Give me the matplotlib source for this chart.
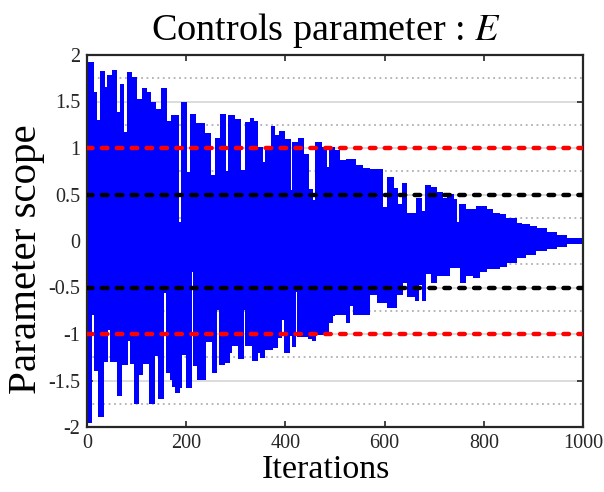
import matplotlib
matplotlib.use("Agg")
import matplotlib.pyplot as plt
import numpy as np
from matplotlib.ticker import MultipleLocator

# ---- data (envelope of E, step segments) ----
upper_edges = [0, 15, 21, 26, 36, 40, 50, 60, 66, 75, 81, 91, 101, 110, 121, 130, 140, 150,
               161, 170, 185, 189, 202, 207, 219, 237, 249, 258, 269, 280, 285, 298, 310,
               318, 328, 337, 345, 354, 358, 370, 380, 387, 399, 411, 414, 426, 438, 447,
               455, 459, 473, 483, 488, 500, 510, 523, 542, 557, 571, 596, 604, 618, 628,
               636, 646, 663, 675, 681, 693, 705, 717, 725, 739, 745, 751, 764, 784, 807,
               818, 833, 845, 866, 878, 893, 908, 927, 947, 967, 985, 1000]
upper_values = [1.92, 1.60, 1.30, 1.83, 1.66, 1.79, 1.84, 1.39, 1.69, 1.17, 1.82, 1.76, 1.53,
                1.65, 1.60, 1.50, 1.42, 1.64, 1.29, 1.36, 0.20, 1.49, 0.74, 1.37, 1.27, 1.16,
                0.71, 1.11, 1.37, 0.75, 1.35, 1.31, 0.76, 1.28, 1.32, 1.29, 1.01, 0.85, 1.02,
                1.24, 1.14, 1.18, 1.10, 0.55, 1.06, 1.11, 0.94, 0.56, 0.44, 1.06, 1.01, 0.80,
                1.01, 0.98, 0.87, 0.88, 0.82, 0.78, 0.77, 0.37, 0.69, 0.57, 0.40, 0.62, 0.30,
                0.46, 0.32, 0.60, 0.58, 0.53, 0.46, 0.51, 0.45, 0.20, 0.40, 0.34, 0.38, 0.34,
                0.30, 0.29, 0.25, 0.19, 0.18, 0.16, 0.14, 0.10, 0.065, 0.035, 0.015]

lower_edges = [0, 11, 14, 23, 35, 43, 46, 60, 71, 83, 86, 94, 105, 112, 126, 138, 144, 156,
               159, 167, 172, 177, 188, 192, 200, 211, 213, 222, 239, 253, 263, 267, 278,
               289, 293, 304, 316, 319, 333, 344, 348, 359, 375, 386, 394, 398, 409, 413,
               421, 424, 446, 453, 461, 477, 487, 495, 500, 522, 530, 537, 571, 584, 604,
               624, 638, 645, 661, 669, 675, 684, 693, 705, 732, 752, 764, 779, 792, 807,
               833, 846, 866, 886, 906, 927, 947, 967, 985, 1000]
lower_values = [-1.96, -0.80, -1.40, -1.89, -1.30, -0.96, -1.30, -1.67, -1.33, -1.08, -1.32,
                -1.75, -1.44, -1.32, -1.75, -1.24, -1.70, -0.56, -1.42, -1.49, -1.57, -1.63,
                -1.58, -1.23, -1.58, -0.33, -1.34, -1.49, -1.09, -1.42, -0.74, -1.33, -1.31,
                -1.20, -1.13, -1.27, -0.74, -1.13, -1.29, -1.20, -1.26, -1.17, -1.15, -1.04,
                -0.85, -1.20, -1.02, -1.14, -0.55, -1.03, -1.05, -1.08, -1.01, -1.00, -0.88,
                -0.81, -0.80, -0.88, -0.70, -0.80, -0.58, -0.67, -0.72, -0.58, -0.45, -0.60,
                -0.65, -0.47, -0.65, -0.35, -0.45, -0.38, -0.29, -0.45, -0.38, -0.40, -0.33,
                -0.30, -0.28, -0.24, -0.18, -0.15, -0.11, -0.09, -0.06, -0.035, -0.015]

ref_levels = [1.0, 0.5, -0.5, -1.0]
ref_colors = ["#ff0000", "#000000", "#000000", "#ff0000"]

x_ticks = [0, 200, 400, 600, 800, 1000]
y_ticks = [-2, -1.5, -1, -0.5, 0, 0.5, 1, 1.5, 2]
y_tick_labels = ["-2", "-1.5", "-1", "-0.5", "0", "0.5", "1", "1.5", "2"]

plt.rcParams["font.family"] = ["Liberation Serif", "DejaVu Serif"]
plt.rcParams["mathtext.fontset"] = "stix"

fig = plt.figure(figsize=(6.04, 4.92), dpi=100)
ax = fig.add_axes([87 / 604, 65 / 492, 496 / 604, 372 / 492])

ax.stairs(upper_values, upper_edges, baseline=-0.03, fill=True, color="#0000ff",
          linewidth=0, zorder=2)
ax.stairs(lower_values, lower_edges, baseline=0.03, fill=True, color="#0000ff",
          linewidth=0, zorder=2)

for lvl, col in zip(ref_levels, ref_colors):
    ax.axhline(lvl, color=col, linewidth=3.2, dashes=(1.25, 2.1),
               dash_capstyle="round", zorder=3)

ax.set_xlim(0, 1000)
ax.set_ylim(-2, 2)
ax.set_xticks(x_ticks)
ax.set_xticklabels([str(t) for t in x_ticks])
ax.set_yticks(y_ticks)
ax.set_yticklabels(y_tick_labels)
ax.yaxis.set_minor_locator(MultipleLocator(0.25))

ax.grid(False)
ax.yaxis.grid(True, which="major", color="#d9d9d9", linewidth=1.3, linestyle="-", zorder=0)
ax.yaxis.grid(True, which="minor", color="#b0b0b0", linewidth=1.3, linestyle=(0, (1, 2)),
              zorder=0)
ax.set_axisbelow(True)

ax.tick_params(which="major", direction="in", length=4, width=1.2, top=True, right=True,
               labelsize=14.5, colors="#262626", pad=5)
ax.tick_params(which="minor", length=0)
ax.tick_params(axis="x", pad=5)
for sp in ax.spines.values():
    sp.set_linewidth(1.6)
    sp.set_color("#262626")

ax.set_title("Controls parameter : $E$", fontsize=27.5, pad=11, x=0.482)
ax.set_xlabel("Iterations", fontsize=24.5)
ax.xaxis.set_label_coords(0.482, -0.074)
ax.set_ylabel("Parameter scope", fontsize=29.5)
ax.yaxis.set_label_coords(-0.085, 0.45)

fig.savefig("out.png", dpi=100)
